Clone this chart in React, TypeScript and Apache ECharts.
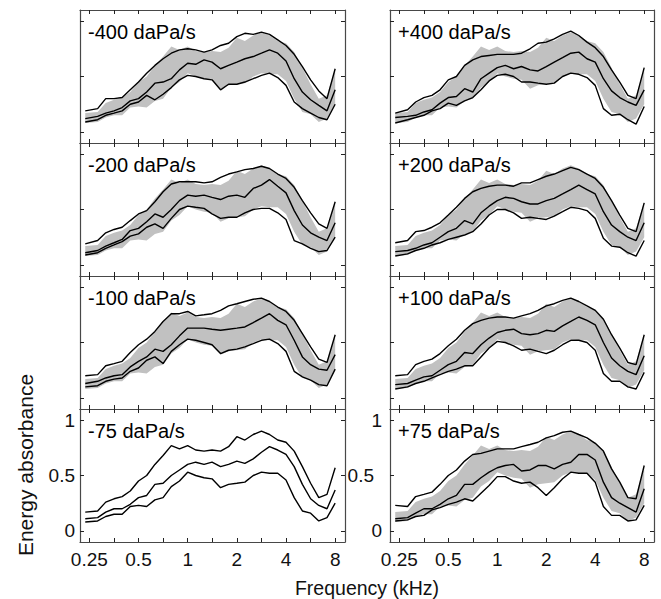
import React, { useEffect, useRef } from 'react';
import * as echarts from 'echarts';

// Frequencies (kHz), ~1/6-octave grid (first point is where the curves start)
const freqs = [0.236, 0.281, 0.315, 0.354, 0.397, 0.445, 0.5, 0.561, 0.63, 0.707, 0.794, 0.891, 1, 1.12, 1.26, 1.41, 1.59, 1.78, 2, 2.24, 2.52, 2.83, 3.17, 3.56, 4, 4.49, 5.04, 5.66, 6.35, 7.13, 8];

const panelTitles = ['-400 daPa/s', '+400 daPa/s', '-200 daPa/s', '+200 daPa/s', '-100 daPa/s', '+100 daPa/s', '-75 daPa/s', '+75 daPa/s'];

// -75 daPa/s (reference condition; also the grey band in the other panels)
const m75Upper = [0.17, 0.18, 0.26, 0.29, 0.31, 0.36, 0.45, 0.50, 0.60, 0.68, 0.77, 0.74, 0.77, 0.73, 0.72, 0.73, 0.72, 0.76, 0.85, 0.82, 0.87, 0.90, 0.87, 0.82, 0.80, 0.72, 0.58, 0.43, 0.30, 0.33, 0.57];
const m75Mid = [0.11, 0.12, 0.17, 0.20, 0.20, 0.24, 0.30, 0.32, 0.42, 0.43, 0.50, 0.55, 0.60, 0.62, 0.60, 0.62, 0.58, 0.60, 0.63, 0.61, 0.65, 0.71, 0.76, 0.73, 0.69, 0.58, 0.42, 0.29, 0.23, 0.20, 0.37];
const m75Lower = [0.08, 0.09, 0.13, 0.15, 0.15, 0.22, 0.23, 0.22, 0.28, 0.30, 0.40, 0.45, 0.53, 0.50, 0.48, 0.47, 0.39, 0.42, 0.43, 0.44, 0.50, 0.53, 0.52, 0.52, 0.46, 0.30, 0.18, 0.16, 0.09, 0.12, 0.25];

// -400 daPa/s
const m400Upper = [0.19, 0.21, 0.30, 0.30, 0.31, 0.38, 0.45, 0.53, 0.60, 0.66, 0.71, 0.74, 0.75, 0.74, 0.72, 0.74, 0.78, 0.80, 0.86, 0.89, 0.88, 0.90, 0.88, 0.83, 0.78, 0.70, 0.59, 0.47, 0.37, 0.30, 0.57];
const m400Mid = [0.12, 0.14, 0.17, 0.19, 0.22, 0.28, 0.30, 0.36, 0.44, 0.45, 0.48, 0.56, 0.62, 0.61, 0.65, 0.63, 0.57, 0.60, 0.63, 0.66, 0.68, 0.71, 0.74, 0.71, 0.64, 0.48, 0.36, 0.29, 0.24, 0.19, 0.38];
const m400Lower = [0.09, 0.11, 0.15, 0.17, 0.19, 0.25, 0.27, 0.33, 0.29, 0.34, 0.40, 0.47, 0.51, 0.50, 0.48, 0.47, 0.38, 0.43, 0.43, 0.45, 0.48, 0.51, 0.53, 0.49, 0.42, 0.27, 0.21, 0.17, 0.13, 0.11, 0.25];

// +400 daPa/s
const p400Upper = [0.17, 0.20, 0.27, 0.31, 0.33, 0.38, 0.47, 0.50, 0.60, 0.65, 0.68, 0.69, 0.70, 0.70, 0.70, 0.71, 0.75, 0.80, 0.81, 0.84, 0.88, 0.91, 0.87, 0.81, 0.76, 0.68, 0.56, 0.45, 0.33, 0.30, 0.58];
const p400Mid = [0.13, 0.14, 0.15, 0.18, 0.20, 0.26, 0.31, 0.32, 0.39, 0.36, 0.48, 0.53, 0.58, 0.60, 0.57, 0.59, 0.56, 0.55, 0.59, 0.63, 0.67, 0.71, 0.72, 0.66, 0.63, 0.48, 0.37, 0.31, 0.27, 0.24, 0.38];
const p400Lower = [0.08, 0.11, 0.13, 0.15, 0.19, 0.21, 0.26, 0.24, 0.28, 0.31, 0.38, 0.46, 0.51, 0.52, 0.50, 0.45, 0.45, 0.44, 0.43, 0.44, 0.50, 0.53, 0.52, 0.49, 0.42, 0.21, 0.15, 0.16, 0.11, 0.07, 0.23];

// -200 daPa/s
const m200Upper = [0.19, 0.22, 0.29, 0.32, 0.34, 0.40, 0.46, 0.49, 0.57, 0.66, 0.73, 0.75, 0.75, 0.75, 0.74, 0.75, 0.79, 0.82, 0.84, 0.86, 0.87, 0.89, 0.87, 0.82, 0.78, 0.70, 0.58, 0.47, 0.37, 0.33, 0.57];
const m200Mid = [0.11, 0.13, 0.17, 0.20, 0.23, 0.31, 0.33, 0.39, 0.46, 0.43, 0.50, 0.58, 0.63, 0.62, 0.63, 0.61, 0.59, 0.62, 0.63, 0.61, 0.69, 0.72, 0.77, 0.71, 0.65, 0.49, 0.36, 0.29, 0.25, 0.22, 0.38];
const m200Lower = [0.09, 0.11, 0.15, 0.18, 0.21, 0.26, 0.28, 0.34, 0.37, 0.33, 0.42, 0.50, 0.53, 0.52, 0.51, 0.46, 0.42, 0.43, 0.43, 0.47, 0.50, 0.51, 0.51, 0.47, 0.41, 0.22, 0.19, 0.15, 0.12, 0.13, 0.25];

// +200 daPa/s
const p200Upper = [0.20, 0.22, 0.30, 0.31, 0.34, 0.38, 0.45, 0.52, 0.60, 0.66, 0.69, 0.71, 0.72, 0.72, 0.71, 0.74, 0.74, 0.77, 0.80, 0.82, 0.85, 0.88, 0.86, 0.82, 0.78, 0.70, 0.58, 0.45, 0.33, 0.30, 0.56];
const p200Mid = [0.12, 0.13, 0.15, 0.18, 0.20, 0.25, 0.30, 0.33, 0.40, 0.37, 0.47, 0.53, 0.58, 0.61, 0.60, 0.57, 0.55, 0.55, 0.58, 0.60, 0.64, 0.68, 0.72, 0.68, 0.64, 0.48, 0.36, 0.30, 0.25, 0.22, 0.38];
const p200Lower = [0.08, 0.10, 0.13, 0.15, 0.18, 0.20, 0.23, 0.25, 0.27, 0.30, 0.37, 0.45, 0.50, 0.50, 0.47, 0.42, 0.43, 0.42, 0.41, 0.44, 0.48, 0.52, 0.51, 0.49, 0.42, 0.24, 0.17, 0.16, 0.11, 0.08, 0.22];

// -100 daPa/s
const m100Upper = [0.20, 0.21, 0.29, 0.31, 0.33, 0.41, 0.48, 0.53, 0.60, 0.69, 0.76, 0.76, 0.78, 0.74, 0.75, 0.76, 0.79, 0.83, 0.85, 0.87, 0.89, 0.90, 0.87, 0.82, 0.78, 0.70, 0.58, 0.46, 0.35, 0.32, 0.57];
const m100Mid = [0.13, 0.15, 0.18, 0.20, 0.21, 0.28, 0.33, 0.37, 0.44, 0.42, 0.48, 0.56, 0.63, 0.63, 0.63, 0.62, 0.61, 0.62, 0.63, 0.64, 0.68, 0.72, 0.76, 0.70, 0.66, 0.52, 0.37, 0.30, 0.26, 0.25, 0.39];
const m100Lower = [0.10, 0.11, 0.15, 0.17, 0.18, 0.24, 0.27, 0.34, 0.37, 0.31, 0.42, 0.48, 0.53, 0.52, 0.50, 0.48, 0.40, 0.43, 0.44, 0.46, 0.49, 0.52, 0.53, 0.49, 0.42, 0.24, 0.19, 0.16, 0.12, 0.11, 0.26];

// +100 daPa/s
const p100Upper = [0.20, 0.21, 0.30, 0.33, 0.35, 0.40, 0.47, 0.53, 0.61, 0.67, 0.70, 0.72, 0.73, 0.73, 0.72, 0.74, 0.76, 0.79, 0.83, 0.85, 0.88, 0.90, 0.87, 0.83, 0.79, 0.71, 0.57, 0.45, 0.32, 0.30, 0.57];
const p100Mid = [0.12, 0.13, 0.16, 0.19, 0.20, 0.25, 0.30, 0.33, 0.41, 0.40, 0.48, 0.54, 0.59, 0.61, 0.62, 0.58, 0.57, 0.58, 0.61, 0.60, 0.65, 0.69, 0.73, 0.70, 0.66, 0.50, 0.36, 0.29, 0.24, 0.21, 0.38];
const p100Lower = [0.08, 0.10, 0.13, 0.15, 0.18, 0.21, 0.24, 0.26, 0.29, 0.29, 0.37, 0.45, 0.51, 0.50, 0.47, 0.43, 0.44, 0.42, 0.40, 0.43, 0.48, 0.52, 0.52, 0.50, 0.43, 0.22, 0.15, 0.15, 0.10, 0.08, 0.23];

// +75 daPa/s
const p75Upper = [0.23, 0.22, 0.31, 0.33, 0.35, 0.42, 0.50, 0.55, 0.63, 0.69, 0.70, 0.72, 0.74, 0.74, 0.74, 0.76, 0.78, 0.80, 0.84, 0.86, 0.89, 0.90, 0.87, 0.84, 0.79, 0.72, 0.56, 0.44, 0.30, 0.29, 0.59];
const p75Mid = [0.11, 0.12, 0.16, 0.20, 0.20, 0.24, 0.29, 0.32, 0.42, 0.42, 0.48, 0.53, 0.57, 0.59, 0.60, 0.54, 0.55, 0.59, 0.59, 0.56, 0.60, 0.62, 0.69, 0.69, 0.64, 0.44, 0.30, 0.25, 0.21, 0.17, 0.38];
const p75Lower = [0.09, 0.10, 0.13, 0.14, 0.19, 0.21, 0.24, 0.26, 0.29, 0.27, 0.34, 0.41, 0.49, 0.49, 0.45, 0.43, 0.44, 0.39, 0.32, 0.39, 0.47, 0.53, 0.52, 0.52, 0.44, 0.22, 0.14, 0.14, 0.09, 0.10, 0.23];

// Tick labels
const xTickFreqs = [0.25, 0.354, 0.5, 0.707, 1, 1.414, 2, 2.828, 4, 5.657, 8];
const xLabelFreqs = [0.25, 0.5, 1, 2, 4, 8];
const xTickLabels = ['0.25', '0.5', '1', '2', '4', '8'];
const yTickValues = [0, 0.5, 1];
const yTickLabels = ['0', '0.5', '1'];

const panels = [
  { title: panelTitles[0], upper: m400Upper, mid: m400Mid, lower: m400Lower, band: true },
  { title: panelTitles[1], upper: p400Upper, mid: p400Mid, lower: p400Lower, band: true },
  { title: panelTitles[2], upper: m200Upper, mid: m200Mid, lower: m200Lower, band: true },
  { title: panelTitles[3], upper: p200Upper, mid: p200Mid, lower: p200Lower, band: true },
  { title: panelTitles[4], upper: m100Upper, mid: m100Mid, lower: m100Lower, band: true },
  { title: panelTitles[5], upper: p100Upper, mid: p100Mid, lower: p100Lower, band: true },
  { title: panelTitles[6], upper: m75Upper, mid: m75Mid, lower: m75Lower, band: false },
  { title: panelTitles[7], upper: p75Upper, mid: p75Mid, lower: p75Lower, band: true },
];

const FONT = '"Liberation Sans", Arial, Helvetica, sans-serif';
const colLeft = [80, 390];
const colWidth = [265, 264];
const rowTop = [10, 143, 276, 409];
const rowHeight = 133;
const X_MIN = -2.19;
const X_MAX = 3.2;

export default function App() {
  const ref = useRef<HTMLDivElement>(null);
  useEffect(() => {
    if (!ref.current) return;
    const chart = echarts.init(ref.current, undefined, { renderer: 'svg' });
    const grids: any[] = [];
    const xAxes: any[] = [];
    const yAxes: any[] = [];
    const series: any[] = [];
    const graphics: any[] = [];
    const axisColor = '#484848';
    const toXY = (vals: number[]) => freqs.map((f, i) => [Math.log2(f), vals[i]]);
    const xTickVals = xTickFreqs.map((f) => Math.round(Math.log2(f) * 2) / 2);
    const xLabelVals = xLabelFreqs.map((f) => Math.log2(f));
    const fmtX = (v: number) => {
      const idx = xLabelVals.findIndex((lv) => Math.abs(lv - v) < 1e-6);
      return idx >= 0 ? xTickLabels[idx] : '';
    };
    const fmtY = (shiftHalf: boolean) => (v: number) => {
      const idx = yTickValues.findIndex((lv) => Math.abs(lv - v) < 1e-6);
      if (idx < 0) return '';
      const label = yTickLabels[idx];
      return shiftHalf && label.length > 1 ? `{p|${label}}` : label;
    };
    const bandUpper = toXY(m75Upper);
    const bandLower = toXY(m75Lower);

    panels.forEach((p, i) => {
      const r = Math.floor(i / 2);
      const c = i % 2;
      const bottomRow = r === 3;
      grids.push({ left: colLeft[c], top: rowTop[r], width: colWidth[c], height: rowHeight, containLabel: false });
      const xBase = {
        gridIndex: i, type: 'value', min: X_MIN, max: X_MAX,
        splitLine: { show: false },
        axisLine: { show: true, onZero: false, lineStyle: { color: axisColor, width: 1.2 } },
        axisTick: { show: true, inside: true, length: 4, customValues: xTickVals, lineStyle: { color: '#222', width: 1 } },
      };
      xAxes.push({
        ...xBase, position: 'bottom',
        axisLabel: { show: bottomRow, customValues: xLabelVals, formatter: fmtX, margin: 8, fontSize: 19, color: '#111', fontFamily: FONT },
      });
      xAxes.push({ ...xBase, position: 'top', axisLabel: { show: false } });
      const yBase = {
        gridIndex: i, type: 'value', min: -0.1, max: 1.1,
        splitLine: { show: false },
        axisLine: { show: true, onZero: false, lineStyle: { color: axisColor, width: 1.2 } },
        axisTick: { show: true, inside: true, length: 4, customValues: yTickValues, lineStyle: { color: '#222', width: 1 } },
      };
      yAxes.push({
        ...yBase, position: 'left',
        axisLabel: {
          show: bottomRow, customValues: yTickValues, formatter: fmtY(c === 1), margin: c === 0 ? 5 : 8,
          fontSize: 19, color: '#111', fontFamily: FONT,
          rich: { p: { padding: [0, 8, 0, 0], fontSize: 19, color: '#111', fontFamily: FONT } },
        },
      });
      yAxes.push({ ...yBase, position: 'right', axisLabel: { show: false } });

      const xi = i * 2;
      const yi = i * 2;
      if (p.band) {
        series.push({
          type: 'custom', coordinateSystem: 'cartesian2d', xAxisIndex: xi, yAxisIndex: yi, silent: true, z: 1,
          data: [[0, 0.5]],
          renderItem: (_params: any, api: any) => {
            const pts: number[][] = [];
            bandUpper.forEach((d) => pts.push(api.coord(d)));
            for (let k = bandLower.length - 1; k >= 0; k--) pts.push(api.coord(bandLower[k]));
            return { type: 'polygon', shape: { points: pts }, style: { fill: '#c1c1c1', stroke: 'none' } };
          },
        });
      }
      [p.upper, p.mid, p.lower].forEach((vals) => {
        series.push({
          type: 'line', xAxisIndex: xi, yAxisIndex: yi, symbol: 'none', silent: true,
          data: toXY(vals), lineStyle: { color: '#000', width: 1.4 }, z: 3,
        });
      });
      graphics.push({
        type: 'text', left: colLeft[c] + 8, top: rowTop[r] + 12, z: 10,
        style: { text: p.title, font: `20px ${FONT}`, fill: '#000' },
      });
    });

    graphics.push({
      type: 'text', x: 367, y: 588, z: 10,
      style: { text: 'Frequency (kHz)', font: `19.5px ${FONT}`, fill: '#111', align: 'center', verticalAlign: 'middle' },
    });
    graphics.push({
      type: 'text', x: 25, y: 465, rotation: Math.PI / 2, z: 10,
      style: { text: 'Energy absorbance', font: `21px ${FONT}`, fill: '#111', align: 'center', verticalAlign: 'middle' },
    });

    chart.setOption({
      animation: false,
      backgroundColor: '#fff',
      grid: grids,
      xAxis: xAxes,
      yAxis: yAxes,
      series,
      graphic: graphics,
    });
    return () => chart.dispose();
  }, []);
  return <div ref={ref} style={{ position: 'absolute', left: 0, top: 0, width: 661, height: 599 }} />;
}
